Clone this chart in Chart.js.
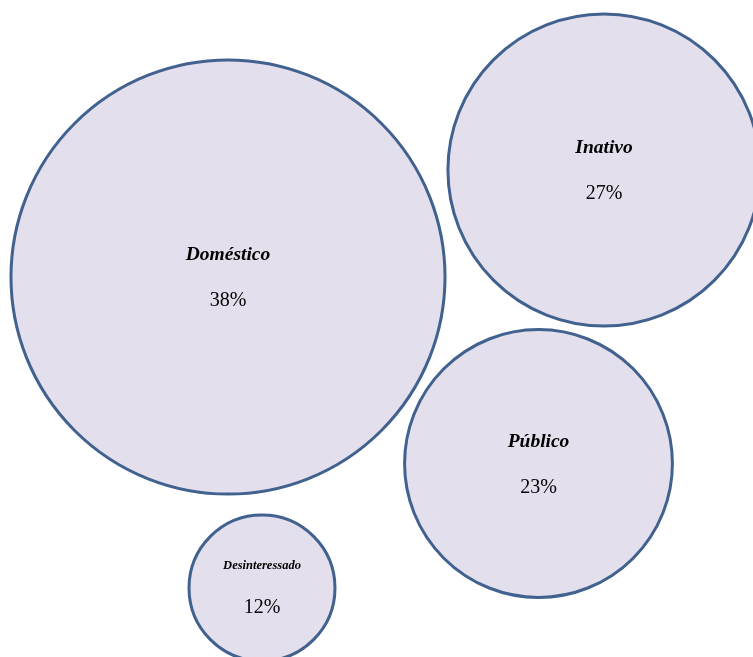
<!DOCTYPE html>
<html>
<head>
<meta charset="utf-8">
<script src="https://cdn.jsdelivr.net/npm/chart.js@4"></script>
<style>
  html, body { margin: 0; padding: 0; background: #fff; }
  #wrap { width: 753px; height: 657px; }
</style>
</head>
<body>
<div id="wrap"><canvas id="bubbleChart"></canvas></div>
<script>
const categories = ['Doméstico', 'Inativo', 'Público', 'Desinteressado'];
const shares = [38, 27, 23, 12];
const xValues = [228, 604, 538.5, 262];
const yValues = [277, 170, 463.5, 588];

// diameter grows linearly with the share
const radiusOf = v => 5.54 * v + 6.5;

const labelPlugin = {
    id: 'bubbleLabels',
    afterDatasetsDraw(chart) {
        const ctx = chart.ctx;
        const meta = chart.getDatasetMeta(0);
        ctx.save();
        ctx.textAlign = 'center';
        ctx.textBaseline = 'middle';
        ctx.fillStyle = '#000';
        meta.data.forEach((pt, i) => {
            const small = shares[i] < 15;
            ctx.font = 'italic bold ' + (small ? 12.5 : 19.5) + 'px "Liberation Serif"';
            ctx.fillText(categories[i], pt.x, pt.y - 22);
            ctx.font = '20px "Liberation Serif"';
            ctx.fillText(shares[i] + '%', pt.x, pt.y + (small ? 20 : 24));
        });
        ctx.restore();
    }
};

new Chart(
    document.getElementById('bubbleChart'),
    {
        type: 'bubble',
        data: {
            labels: categories,
            datasets: [
                {
                    data: shares.map((v, i) => ({x: xValues[i], y: yValues[i], r: radiusOf(v)})),
                    backgroundColor: '#E4DFEC',
                    borderColor: '#41618F',
                    borderWidth: 3,
                    hoverBorderWidth: 3,
                    clip: false
                }
            ]
        },
        options: {
            responsive: true,
            maintainAspectRatio: false,
            animation: false,
            layout: {padding: 0, autoPadding: false},
            plugins: {legend: {display: false}, tooltip: {enabled: false}},
            scales: {
                x: {display: false, min: 0, max: 753},
                y: {display: false, min: 0, max: 657, reverse: true}
            }
        },
        plugins: [labelPlugin]
    }
);
</script>
</body>
</html>
